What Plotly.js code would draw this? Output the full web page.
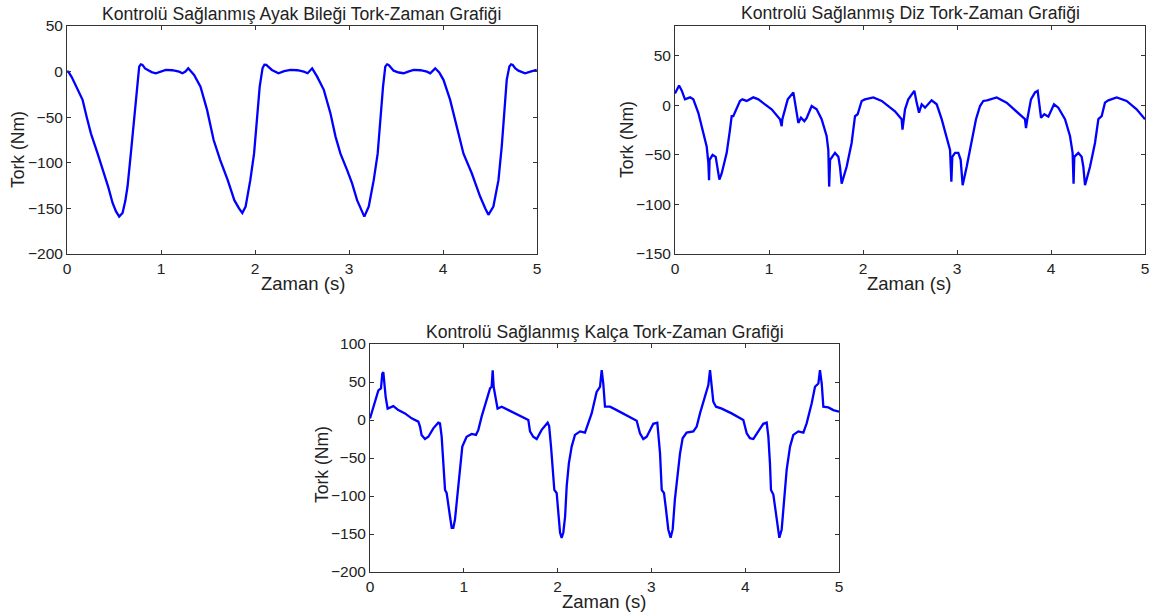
<!DOCTYPE html>
<html>
<head>
<meta charset="utf-8">
<script src="https://cdn.plot.ly/plotly-3.0.1.min.js"></script>
<style>html,body{margin:0;padding:0;background:#fff;}#chart{width:1152px;height:614px;}</style>
</head>
<body>
<div id="chart"></div>
<script>
// Ayak bileği (ankle)
const ankleT = [0,0.014,0.05,0.096,0.166,0.21,0.255,0.326,0.396,0.44,0.485,0.52,0.555,0.591,0.62,0.644,0.679,0.715,0.743,0.768,0.785,0.803,0.83,0.856,0.9,0.945,1.0,1.051,1.12,1.192,1.228,1.26,1.29,1.32,1.352,1.42,1.49,1.56,1.63,1.71,1.78,1.83,1.865,1.9,1.95,1.99,2.02,2.05,2.08,2.1,2.12,2.15,2.18,2.25,2.31,2.378,2.45,2.52,2.56,2.608,2.661,2.732,2.803,2.856,2.909,2.98,3.033,3.086,3.13,3.163,3.21,3.263,3.305,3.333,3.362,3.386,3.405,3.422,3.45,3.475,3.53,3.581,3.63,3.687,3.76,3.829,3.864,3.917,3.96,4.005,4.076,4.147,4.218,4.306,4.395,4.45,4.483,4.536,4.59,4.625,4.65,4.678,4.706,4.725,4.742,4.77,4.802,4.873,4.93,4.997];
const ankleTork = [0,0,-6,-16.5,-31,-50,-68,-90,-111.5,-127,-144,-153,-159,-155,-142,-126,-90,-53,-16.5,5.5,8,7.3,3.5,1.8,-0.5,-1.8,0,1.8,1.5,0,-1.8,0,3.6,0.5,-3.6,-16.5,-42,-75,-97,-119,-141,-150,-155,-148,-119,-90,-53,-16.5,3.6,7.5,7.3,4,1.8,-1.8,0.5,1.8,1.5,0,-1.8,3.6,-5.5,-20,-46,-71,-90,-108,-122.5,-141,-152,-159,-148,-119,-90,-53,-16.5,5.5,8,7.3,3.5,1,-1,-1.8,0,1.8,1.5,0,-1.8,3.6,-1,-9,-31,-60,-90,-111.5,-137,-150,-157,-148,-119,-82,-46,-9,5.5,8,7.3,3.5,1,-1.8,0,1.8];

// Diz (knee)
const kneeT = [0,0.043,0.071,0.106,0.16,0.195,0.248,0.301,0.337,0.355,0.362,0.368,0.4,0.433,0.45,0.472,0.496,0.55,0.585,0.603,0.62,0.645,0.691,0.716,0.762,0.833,0.887,0.957,1.028,1.117,1.135,1.142,1.17,1.199,1.259,1.277,1.294,1.312,1.34,1.376,1.4,1.454,1.507,1.56,1.613,1.631,1.64,1.65,1.702,1.738,1.755,1.773,1.826,1.879,1.915,1.943,1.986,2.02,2.11,2.199,2.34,2.411,2.42,2.43,2.447,2.482,2.518,2.546,2.571,2.596,2.624,2.66,2.73,2.784,2.837,2.89,2.926,2.94,2.95,2.979,3.014,3.039,3.06,3.103,3.156,3.202,3.245,3.28,3.32,3.422,3.528,3.635,3.723,3.734,3.748,3.787,3.83,3.858,3.876,3.894,3.929,3.972,4.032,4.078,4.149,4.202,4.23,4.24,4.248,4.291,4.326,4.344,4.362,4.415,4.468,4.504,4.539,4.574,4.61,4.699,4.805,4.911,5.0];
const kneeTork = [12,20,15,6,8,6,-7.5,-28,-41.5,-58,-75.5,-55,-50,-52,-62,-75,-69,-48,-24.5,-11,-11,-6,4.4,6,4.4,8,6,1,-4,-14,-21,-14,-4,6,13,1,-11,-17.7,-12.6,-16,-13,-0.7,-4,-14,-31,-45,-82,-55,-48,-52,-62,-79,-62,-38,-11,-9,4.4,6,8,4.4,-6,-14,-24.5,-15,-4,6,11,14.6,2.7,-7.5,1,-2.4,5,1,-14,-31,-45,-77,-52,-48,-48,-55,-80.6,-62,-38,-14,-0.7,4.4,5,8,2.7,-6,-14,-23,-14,6,13,14.6,1,-12.6,-9,-11.5,1,-2.4,-14,-31,-48,-79,-52,-48,-52,-62,-80.6,-62,-38,-14,-11,2.7,5,8,4.4,-4,-14];

// Kalça (hip)
const hipT = [0,0.018,0.053,0.089,0.117,0.131,0.142,0.153,0.167,0.188,0.213,0.249,0.302,0.373,0.444,0.515,0.533,0.55,0.586,0.622,0.675,0.728,0.746,0.764,0.782,0.8,0.817,0.835,0.853,0.871,0.888,0.906,0.935,0.96,0.984,1.03,1.084,1.13,1.155,1.19,1.244,1.28,1.297,1.308,1.318,1.34,1.36,1.404,1.475,1.58,1.688,1.706,1.74,1.777,1.83,1.894,1.91,1.93,1.948,1.965,1.99,2.008,2.026,2.043,2.061,2.08,2.097,2.12,2.15,2.185,2.24,2.292,2.33,2.363,2.416,2.452,2.47,2.487,2.505,2.559,2.63,2.737,2.843,2.878,2.914,2.95,3.02,3.063,3.092,3.11,3.134,3.156,3.18,3.205,3.227,3.25,3.277,3.305,3.333,3.376,3.447,3.483,3.518,3.571,3.607,3.625,3.643,3.66,3.689,3.75,3.855,3.98,4.016,4.05,4.087,4.14,4.193,4.229,4.247,4.264,4.275,4.3,4.318,4.342,4.364,4.389,4.414,4.442,4.478,4.513,4.566,4.62,4.655,4.709,4.744,4.78,4.797,4.816,4.833,4.886,4.94,5.0];
const hipTork = [2,9,24,39,41.5,61,63,48,30.5,15,16.6,18.3,13,8.7,2.2,-2.2,-8.7,-19.6,-25,-22,-11,-3.5,-4.4,-22,-57,-92,-96,-109,-127,-142,-142,-131,-92,-57,-35,-22,-18.3,-19.6,-13,4.4,26,41.5,43.7,65.5,43.7,26,15,17.5,13,6.5,0,-15,-22,-25,-13,-3.5,-8,-35,-65.5,-92,-96,-118,-148,-155,-148,-127,-87,-57,-35,-19.6,-15,-16.6,-4.4,8.7,37,43.7,65.5,48,17.5,17.5,13,6.5,-1,-17.5,-25,-22,-5,-3.5,-44,-92,-96,-118,-144,-155,-144,-105,-74,-44,-24,-16.6,-15,-8.7,8.7,33,46,65.5,48,24,17.5,15,8.7,0,-17.5,-24,-25,-15,-5,-3.5,-22,-57,-92,-98,-113.5,-140,-155,-144,-109,-65.5,-35,-19.6,-15,-16.6,-4.4,22,43.7,48,65.5,48,17.5,16.6,13,11];

const titles = ["Kontrolü Sağlanmış Ayak Bileği Tork-Zaman Grafiği","Kontrolü Sağlanmış Diz Tork-Zaman Grafiği","Kontrolü Sağlanmış Kalça Tork-Zaman Grafiği"];
const xLabel = "Zaman (s)";
const yLabel = "Tork (Nm)";

const W = 1152, H = 614;
const px = v => v / W, py = v => 1 - v / H;
const fam = "Liberation Sans, Arial, sans-serif";
const titleFont = {family: fam, size: 17.6, color: "#222"};
const tickFont = {family: fam, size: 15.5, color: "#222"};
const xLabelFont = {family: fam, size: 18.5, color: "#222"};
const yLabelFont = {family: fam, size: 17.5, color: "#222"};
const lineStyle = {color: "#0000ff", width: 2.3};

const traces = [
  {x: ankleT, y: ankleTork, type: "scatter", mode: "lines", line: lineStyle, xaxis: "x", yaxis: "y"},
  {x: kneeT, y: kneeTork, type: "scatter", mode: "lines", line: lineStyle, xaxis: "x2", yaxis: "y2"},
  {x: hipT, y: hipTork, type: "scatter", mode: "lines", line: lineStyle, xaxis: "x3", yaxis: "y3"}
];

function xa(domain, anchor) {
  return {domain: domain, anchor: anchor, range: [0, 5], dtick: 1, tick0: 0,
    showline: true, mirror: "ticks", ticks: "inside", ticklen: 4, tickwidth: 1,
    linecolor: "#333", tickcolor: "#333", linewidth: 1, showgrid: false, zeroline: false,
    tickfont: tickFont};
}
function ya(domain, anchor, range) {
  return {domain: domain, anchor: anchor, range: range, dtick: 50, tick0: 0,
    showline: true, mirror: "ticks", ticks: "inside", ticklen: 4, tickwidth: 1,
    linecolor: "#333", tickcolor: "#333", linewidth: 1, showgrid: false, zeroline: false,
    tickfont: tickFont};
}

function label(text, x, y, font, angle) {
  return {text: text, xref: "paper", yref: "paper", x: px(x), y: py(y), xanchor: "center", yanchor: "middle",
    showarrow: false, font: font, textangle: angle || 0};
}

const layout = {
  width: W, height: H, showlegend: false,
  margin: {l: 0, r: 0, t: 0, b: 0},
  paper_bgcolor: "#fff", plot_bgcolor: "#fff",
  font: tickFont,
  xaxis: xa([px(67), px(537)], "y"),
  yaxis: ya([py(254), py(26)], "x", [-200, 50]),
  xaxis2: xa([px(675), px(1145)], "y2"),
  yaxis2: ya([py(254), py(26)], "x2", [-150, 80]),
  xaxis3: xa([px(370), px(839)], "y3"),
  yaxis3: ya([py(572), py(344)], "x3", [-200, 100]),
  annotations: [
    {text: titles[0], xref: "paper", yref: "paper", x: px(301), y: py(26), xanchor: "center", yanchor: "bottom", showarrow: false, font: titleFont},
    {text: titles[1], xref: "paper", yref: "paper", x: px(910), y: py(25), xanchor: "center", yanchor: "bottom", showarrow: false, font: titleFont},
    {text: titles[2], xref: "paper", yref: "paper", x: px(604.5), y: py(344), xanchor: "center", yanchor: "bottom", showarrow: false, font: titleFont},
    label(xLabel, 303, 283, xLabelFont),
    label(xLabel, 909, 283, xLabelFont),
    label(xLabel, 604, 601, xLabelFont),
    label(yLabel, 18, 150, yLabelFont, -90),
    label(yLabel, 627, 140, yLabelFont, -90),
    label(yLabel, 322, 465, yLabelFont, -90)
  ]
};

Plotly.newPlot("chart", traces, layout, {displayModeBar: false, staticPlot: true});
</script>
</body>
</html>
